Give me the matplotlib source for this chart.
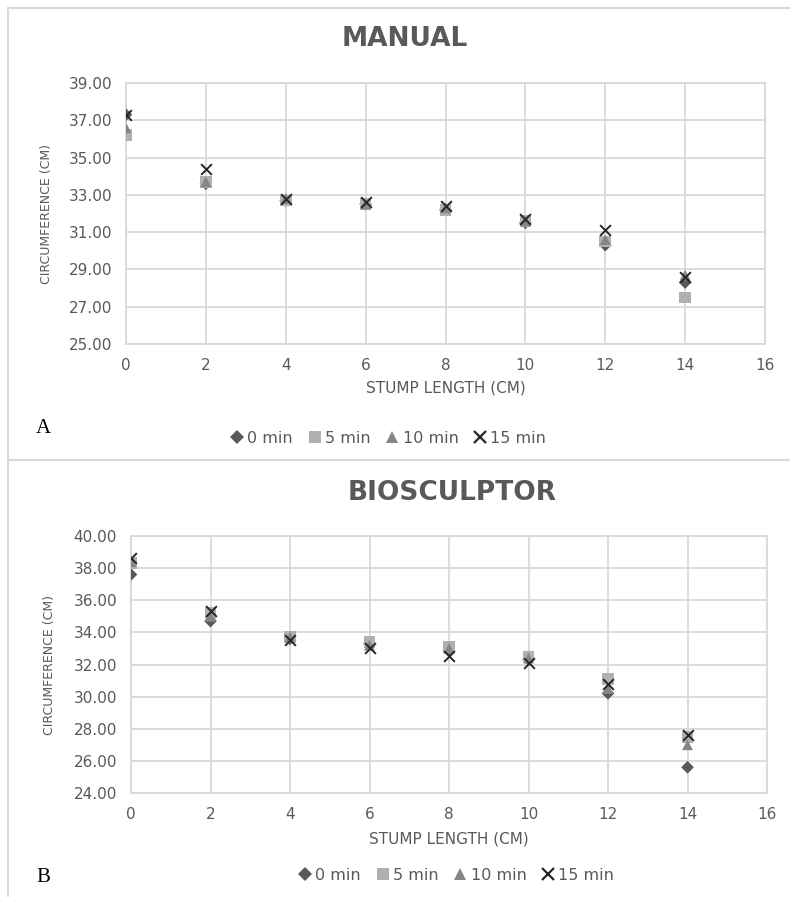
import numpy as np
import matplotlib.pyplot as plt
from matplotlib.patches import Rectangle
from matplotlib.lines import Line2D

# stump length positions (cm)
stump = [0, 2, 4, 6, 8, 10, 12, 14]
series_names = ["0 min", "5 min", "10 min", "15 min"]

# MANUAL circumference (cm)
manual_0 = [37.3, 33.6, 32.7, 32.5, 32.2, 31.5, 30.3, 28.3]
manual_5 = [36.2, 33.7, 32.7, 32.5, 32.2, 31.6, 30.5, 27.5]
manual_10 = [36.6, 33.7, 32.8, 32.5, 32.3, 31.6, 30.6, 28.7]
manual_15 = [37.3, 34.4, 32.8, 32.6, 32.4, 31.7, 31.1, 28.6]

# BIOSCULPTOR circumference (cm)
bio_0 = [37.6, 34.7, 33.6, 33.3, 32.9, 32.3, 30.2, 25.6]
bio_5 = [38.3, 35.2, 33.7, 33.4, 33.1, 32.5, 31.1, 27.5]
bio_10 = [38.4, 35.0, 33.7, 33.2, 33.0, 32.4, 30.5, 27.0]
bio_15 = [38.6, 35.3, 33.5, 33.0, 32.5, 32.1, 30.8, 27.6]

markers = ["D", "s", "^", "x"]
colors = ["#595959", "#b0b0b0", "#858585", "#262626"]
sizes = [42, 70, 60, 60]

plt.rcParams['font.family'] = ['DejaVu Sans']

W, H = 790, 897
fig = plt.figure(figsize=(W/100, H/100), dpi=100)

# panel borders
fig.patches.append(Rectangle((8/W, 1-460/H), 1, 452/H, transform=fig.transFigure,
                             fill=False, edgecolor="#d9d9d9", linewidth=1.5))
fig.patches.append(Rectangle((8/W, -0.01), 1, 1-460/H+0.01, transform=fig.transFigure,
                             fill=False, edgecolor="#d9d9d9", linewidth=1.5))


def draw_panel(box, data, ylim, title, title_xy, letter, letter_y, legend_xy, xlabel_y, ylabel_x):
    left, top, right, bottom = box
    ax = fig.add_axes([left/W, 1-bottom/H, (right-left)/W, (bottom-top)/H])
    for vals, m, c, s in zip(data, markers, colors, sizes):
        if m == "x":
            ax.scatter(stump, vals, marker=m, s=s, color=c, linewidths=1.4, zorder=5)
        else:
            ax.scatter(stump, vals, marker=m, s=s, color=c, zorder=4, edgecolors="none")
    yt = np.arange(ylim[0], ylim[1] + 0.1, 2)
    ax.set_xlim(0, 16)
    ax.set_ylim(ylim)
    ax.set_xticks(range(0, 17, 2))
    ax.set_yticks(yt)
    ax.set_yticklabels(["%.2f" % v for v in yt])
    ax.grid(True, color="#d9d9d9", linewidth=1.3)
    ax.set_axisbelow(True)
    for sp in ax.spines.values():
        sp.set_color("#d9d9d9")
        sp.set_linewidth(1.3)
    ax.tick_params(length=0, labelsize=11, labelcolor="#595959", pad=10)
    ax.set_ylabel("CIRCUMFERENCE (CM)", fontsize=9, color="#595959")
    ax.yaxis.set_label_coords((ylabel_x + 6 - left)/(right-left), 0.5)
    fig.text((left+right)/2/W, 1 - xlabel_y/H, "STUMP LENGTH (CM)", ha="center", va="center",
             fontsize=11, color="#595959")
    fig.text(title_xy[0]/W, 1 - title_xy[1]/H, title, ha="center", va="center", fontsize=19,
             fontweight="bold", color="#595959")
    fig.text(36/W, 1 - letter_y/H, letter, ha="left", va="center", fontsize=15,
             family="Liberation Serif", color="black")
    handles = [Line2D([], [], linestyle="none", marker=m, color=c,
                      markersize=(9 if m != "D" else 7), markeredgewidth=(1.6 if m == "x" else 0))
               for m, c in zip(markers, colors)]
    fig.legend(handles, series_names, loc="center", bbox_to_anchor=(legend_xy[0]/W, 1 - legend_xy[1]/H),
               ncol=4, frameon=False, fontsize=11.5, handletextpad=0.2, columnspacing=0.9,
               handlelength=0.9, labelcolor="#595959", borderpad=0)
    return ax


draw_panel((126, 83, 765, 344), [manual_0, manual_5, manual_10, manual_15], (25, 39),
           "MANUAL", (405, 39), "A", 428, (388, 438), 388, 47)
draw_panel((131, 536, 767, 793), [bio_0, bio_5, bio_10, bio_15], (24, 40),
           "BIOSCULPTOR", (452, 493), "B", 877, (456, 875), 839, 50)

fig.savefig("out.png", dpi=100)
